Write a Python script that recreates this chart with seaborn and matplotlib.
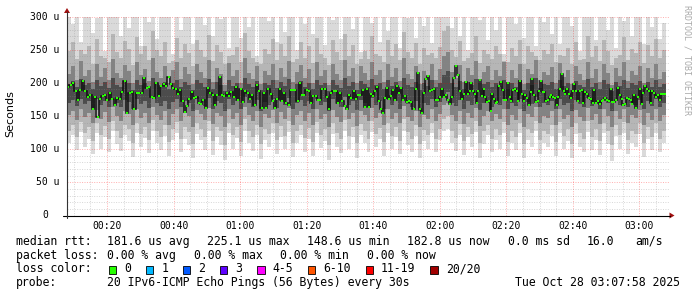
import numpy as np
import pandas as pd
import matplotlib
matplotlib.use("Agg")
import matplotlib.pyplot as plt
import matplotlib.transforms as mtransforms
from matplotlib.patches import Polygon, Rectangle
from matplotlib.lines import Line2D
import seaborn as sns

sns.set_style("white")
plt.rcParams['font.family'] = ['DejaVu Sans Mono', 'DejaVu Sans']

# ---------------- data (microseconds) ----------------
chunk_edges = ["00:07:58", "00:37:26", "01:07:29", "01:37:50", "02:08:10", "02:38:31", "03:07:58"]
axis_end = "03:08:52"

median_c1 = [193, 196.5, 200, 188, 174, 189, 202.5, 188, 179, 181.5, 161, 179, 149, 176, 180, 181.5,
             174, 185, 175, 167, 176.5, 175, 186.5, 203, 155, 185, 186, 160, 185, 185, 185, 207,
             191.5, 193, 178, 177, 200, 180, 195, 198]
median_c2 = [195, 209, 198, 192, 190, 183, 189, 172, 156, 165, 175, 186, 177, 178, 169, 168, 174,
             162, 192, 185, 182, 167, 182, 209, 181, 180, 185, 180, 186, 178, 193, 174, 190, 171,
             187, 185, 176, 181, 167, 196, 188, 162, 185]
median_c3 = [162, 191, 183, 173, 162, 175, 190, 173, 185, 170, 167, 189, 189, 189, 173, 200, 181,
             182, 189, 188, 170, 180, 180, 174, 174, 191, 191, 178, 160, 185, 188, 188, 170, 185,
             173, 165, 161, 181, 177, 188, 176, 181, 181, 189, 164]
median_c4 = [191, 164, 183, 180, 188, 194, 173, 161, 155, 177, 192, 175, 180, 189, 174, 195, 185,
             192, 174, 180, 171, 172, 171, 160, 191, 215, 161, 155, 185, 206, 210, 187, 189, 191,
             174, 174, 178, 191, 179, 182, 174, 168, 179, 207, 225.1, 212, 188, 176, 183, 202]
median_c5 = [183, 187, 200, 187, 183, 170, 187, 204, 180, 191, 178, 171, 172, 158, 183, 176, 170,
             171, 195, 201, 189, 174, 174, 200, 178, 172, 189, 191, 188, 172, 203, 183, 173, 181,
             177, 166, 186, 206, 182, 171, 173, 188, 203, 186, 186, 173, 174, 178, 181, 179, 177,
             166, 178, 191, 214, 188, 183, 191]
median_c6 = [183, 177, 187, 198, 187, 173, 187, 189, 170, 186, 183, 177, 175, 170, 189, 170, 173,
             168, 173, 174, 177, 174, 173, 191, 171, 171, 174, 192, 182, 176, 167, 168, 177, 176,
             174, 168, 182, 162, 178, 191, 168, 185, 195, 191, 188, 169, 188, 185, 179, 181, 174,
             183, 183, 182.8]
median_chunks = [median_c1, median_c2, median_c3, median_c4, median_c5, median_c6]

# smoke: ping distribution per time column (150 columns over the 3 h window)
smoke_max = [310, 288, 310, 262, 310, 310, 275, 298, 310, 248, 310, 305, 310, 270, 310, 283, 310, 310, 256, 310, 292, 310, 266, 310, 310, 301, 244, 310, 279, 310,
             310, 258, 310, 310, 287, 310, 271, 310, 296, 310, 252, 310, 310, 268, 310, 284, 310, 241, 310, 310, 293, 310, 262, 310, 277, 310, 310, 249, 310, 289,
             310, 273, 310, 310, 257, 310, 295, 310, 266, 310, 310, 281, 310, 246, 310, 310, 290, 310, 261, 310, 278, 310, 310, 253, 310, 297, 310, 268, 310, 285,
             310, 260, 310, 310, 310, 310, 282, 310, 271, 310, 250, 310, 310, 294, 310, 264, 310, 279, 310, 243, 310, 310, 288, 310, 267, 310, 310, 255, 310, 291,
             310, 274, 310, 258, 310, 310, 286, 310, 248, 310, 299, 310, 265, 310, 310, 280, 310, 252, 310, 293, 310, 270, 310, 310, 259, 310, 284, 310, 266, 290]
smoke_p90 = [248, 262, 236, 250, 244, 255, 229, 266, 241, 238, 232, 274, 247, 238, 263, 251, 227, 269, 243, 256, 234, 278, 249, 240, 261, 230, 233, 268, 237, 259,
             245, 226, 264, 250, 239, 272, 233, 257, 246, 228, 240, 242, 254, 231, 275, 248, 237, 232, 229, 251, 244, 266, 235, 258, 240, 270, 232, 236, 261, 238,
             255, 230, 268, 243, 238, 227, 264, 246, 235, 273, 241, 257, 229, 236, 248, 236, 270, 244, 240, 231, 265, 240, 258, 234, 276, 247, 238, 260, 228, 252,
             242, 245, 237, 254, 278, 285, 250, 239, 263, 233, 238, 245, 271, 230, 249, 244, 236, 255, 243, 233, 232, 252, 240, 264, 229, 256, 247, 240, 235, 250,
             244, 259, 231, 242, 241, 253, 228, 262, 234, 236, 270, 239, 255, 233, 264, 248, 227, 238, 242, 269, 234, 251, 245, 262, 230, 257, 240, 266, 237, 249]
smoke_p75 = [214, 226, 205, 233, 211, 220, 201, 229, 209, 223, 204, 236, 215, 207, 227, 218, 199, 231, 212, 221, 203, 238, 216, 208, 225, 200, 219, 232, 206, 224,
             213, 198, 228, 217, 207, 234, 202, 222, 214, 197, 230, 210, 220, 200, 237, 215, 206, 226, 198, 218, 212, 229, 204, 223, 209, 233, 201, 216, 227, 207,
             221, 200, 231, 211, 219, 197, 228, 213, 204, 235, 210, 222, 199, 226, 215, 205, 232, 212, 220, 201, 229, 209, 223, 203, 238, 214, 206, 225, 198, 218,
             210, 229, 205, 221, 240, 246, 217, 207, 227, 202, 222, 212, 233, 199, 216, 225, 205, 220, 211, 231, 201, 219, 208, 228, 198, 221, 214, 235, 204, 217,
             212, 224, 200, 230, 209, 219, 198, 226, 213, 205, 232, 207, 221, 202, 228, 215, 197, 223, 210, 231, 203, 218, 212, 226, 199, 222, 208, 229, 206, 216]
smoke_p60 = [198, 203, 193, 206, 196, 200, 190, 204, 195, 201, 192, 207, 197, 193, 203, 199, 189, 205, 196, 200, 191, 208, 198, 194, 202, 190, 199, 205, 193, 201,
             197, 189, 204, 199, 194, 206, 191, 201, 197, 188, 205, 195, 200, 190, 208, 198, 193, 203, 189, 199, 196, 204, 192, 201, 195, 206, 190, 198, 203, 194,
             200, 190, 205, 196, 199, 188, 204, 197, 192, 207, 195, 201, 189, 203, 198, 193, 206, 196, 200, 190, 204, 195, 201, 191, 208, 197, 193, 202, 189, 199,
             195, 204, 193, 200, 212, 218, 199, 194, 203, 191, 201, 196, 206, 189, 198, 202, 193, 200, 195, 205, 190, 199, 194, 204, 189, 200, 197, 207, 192, 198,
             196, 202, 190, 205, 195, 199, 189, 203, 197, 193, 206, 194, 200, 191, 204, 198, 188, 202, 195, 205, 192, 199, 196, 203, 190, 201, 194, 204, 193, 198]
smoke_p40 = [170, 174, 165, 176, 168, 172, 162, 175, 167, 173, 163, 177, 169, 164, 174, 171, 160, 176, 168, 172, 162, 178, 170, 165, 173, 161, 171, 176, 164, 172,
             169, 158, 175, 171, 165, 177, 161, 172, 169, 157, 176, 166, 172, 160, 178, 170, 164, 174, 158, 171, 167, 175, 162, 172, 166, 177, 160, 170, 174, 165,
             172, 160, 176, 167, 171, 157, 175, 168, 163, 178, 166, 172, 159, 174, 170, 164, 177, 167, 172, 160, 175, 166, 172, 161, 179, 168, 164, 173, 158, 170,
             166, 175, 164, 171, 180, 186, 170, 165, 174, 161, 172, 167, 177, 159, 169, 173, 164, 171, 166, 176, 160, 170, 165, 175, 158, 171, 168, 178, 163, 169,
             167, 173, 160, 176, 166, 170, 158, 174, 168, 164, 177, 165, 171, 161, 175, 169, 157, 173, 166, 176, 163, 170, 167, 174, 160, 172, 165, 175, 164, 170]
smoke_p25 = [152, 158, 144, 161, 148, 155, 139, 159, 146, 156, 141, 163, 150, 143, 158, 153, 136, 160, 147, 155, 140, 164, 151, 144, 157, 137, 153, 161, 142, 155,
             150, 134, 159, 153, 144, 162, 138, 155, 150, 133, 160, 145, 155, 137, 164, 151, 143, 158, 134, 153, 147, 159, 140, 156, 145, 162, 136, 151, 158, 143,
             154, 137, 161, 146, 153, 133, 159, 148, 141, 164, 145, 155, 135, 158, 151, 142, 162, 147, 154, 137, 160, 145, 155, 139, 165, 149, 142, 157, 134, 152,
             145, 160, 142, 153, 166, 170, 151, 143, 158, 138, 155, 147, 162, 135, 150, 157, 142, 153, 146, 161, 137, 151, 144, 160, 134, 153, 148, 163, 140, 150,
             147, 157, 137, 161, 145, 152, 134, 159, 148, 142, 162, 144, 153, 138, 160, 150, 133, 157, 146, 161, 140, 151, 147, 159, 136, 155, 144, 160, 142, 151]
smoke_p10 = [128, 137, 118, 141, 124, 133, 113, 139, 121, 135, 115, 143, 127, 117, 137, 130, 110, 140, 123, 134, 114, 144, 128, 119, 136, 111, 131, 141, 116, 133,
             126, 108, 139, 131, 119, 142, 112, 134, 127, 107, 140, 121, 133, 111, 145, 128, 118, 137, 108, 131, 123, 139, 114, 135, 120, 142, 110, 128, 137, 117,
             132, 111, 141, 122, 130, 107, 139, 124, 115, 144, 120, 134, 109, 138, 128, 116, 142, 123, 132, 111, 140, 120, 134, 113, 146, 126, 116, 136, 108, 129,
             121, 140, 116, 131, 146, 150, 128, 117, 138, 112, 134, 123, 142, 109, 127, 137, 116, 131, 121, 141, 111, 128, 119, 140, 108, 131, 124, 143, 114, 127,
             123, 136, 111, 141, 120, 130, 108, 139, 124, 116, 142, 119, 131, 112, 140, 127, 107, 136, 121, 141, 114, 128, 123, 139, 110, 133, 119, 140, 116, 128]
smoke_min = [110, 122, 98, 126, 104, 116, 92, 124, 101, 119, 95, 128, 108, 97, 121, 113, 88, 125, 103, 117, 94, 127, 109, 99, 120, 90, 114, 125, 96, 116,
             106, 86, 123, 114, 99, 127, 91, 118, 107, 84, 125, 101, 117, 89, 128, 110, 97, 121, 85, 114, 103, 124, 93, 119, 100, 126, 88, 110, 122, 96,
             115, 89, 125, 102, 113, 83, 123, 104, 94, 128, 100, 118, 87, 122, 110, 95, 126, 103, 115, 90, 124, 100, 118, 92, 127, 106, 96, 120, 86, 112,
             101, 124, 95, 114, 128, 131, 110, 97, 122, 91, 118, 103, 126, 87, 108, 121, 95, 114, 101, 125, 90, 110, 99, 124, 86, 114, 104, 127, 93, 109,
             103, 120, 90, 125, 100, 113, 86, 123, 104, 95, 126, 98, 114, 91, 124, 108, 82, 120, 101, 125, 93, 110, 103, 123, 88, 116, 98, 124, 95, 110]

y_ticks = [0, 50, 100, 150, 200, 250, 300]
y_ticklabels = ["0", "50 u", "100 u", "150 u", "200 u", "250 u", "300 u"]
x_ticks_min = [20, 40, 60, 80, 100, 120, 140, 160, 180]
x_ticklabels = ["00:20", "00:40", "01:00", "01:20", "01:40", "02:00", "02:20", "02:40", "03:00"]

legend_rows = [
    [(16, "median rtt:"), (107.3, "181.6 us avg"), (207.3, "225.1 us max"), (307.4, "148.6 us min"),
     (407.5, "182.8 us now"), (507.6, "0.0 ms sd"), (587, "16.0"), (635.6, "am/s")],
    [(16, "packet loss:"), (107.3, "0.00 % avg"), (193.7, "0.00 % max"), (280.2, "0.00 % min"),
     (366.5, "0.00 % now")],
    [(16, "loss color:")],
    [(16, "probe:"), (107.3, "20 IPv6-ICMP Echo Pings (56 Bytes) every 30s")],
]
loss_labels = ["0", "1", "2", "3", "4-5", "6-10", "11-19", "20/20"]
loss_colors = ["#26ff00", "#00b8ff", "#0059ff", "#5e00ff", "#ff00ff", "#ff5500", "#ff0000", "#a10000"]
stamp = "Tue Oct 28 03:07:58 2025"

# ---------------- helpers ----------------
W, H = 697, 297


def hms(s):
    h, m, sec = (int(v) for v in s.split(":"))
    return h * 60 + m + sec / 60.0


def fx(x):
    return x / W


def fy(y):
    return 1 - y / H


edges = [hms(e) for e in chunk_edges]
med_edges = []
med_vals = []
med_t = []
for k, vals in enumerate(median_chunks):
    a, b = edges[k], edges[k + 1]
    n = len(vals)
    st = (b - a) / n
    for i in range(n):
        med_edges.append(a + st * i)
        med_t.append(a + st * (i + 0.5))
    med_vals.extend(vals)
med_edges.append(edges[-1])
df = pd.DataFrame({"t": med_t, "rtt": med_vals})

ns = len(smoke_max)
s_edges = np.linspace(edges[0], edges[-1], ns + 1)

# ---------------- figure ----------------
fig = plt.figure(figsize=(W / 100, H / 100), dpi=100)
fig.patch.set_facecolor("white")
ax = fig.add_axes([fx(67), fy(215.5), (669 - 67) / W, (215.5 - 16.5) / H])
ax.set_facecolor("white")

bands = [(smoke_min, smoke_max, "#dadada"),
         (smoke_p10, smoke_p90, "#b6b6b6"),
         (smoke_p25, smoke_p75, "#838383"),
         (smoke_p40, smoke_p60, "#4c4c4c")]
for lo, hi, col in bands:
    ax.stairs(hi, s_edges, baseline=lo, fill=True, color=col, lw=0, zorder=1)

ax.stairs(med_vals, med_edges, baseline=None, color="#111111", lw=1.1, zorder=3)
sns.scatterplot(data=df, x="t", y="rtt", marker="s", s=4.2, color=loss_colors[0],
                linewidth=0, ax=ax, zorder=4, legend=False)

ax.set_xlim(edges[0], hms(axis_end))
ax.set_ylim(0, 300)
ax.set_xlabel("")
ax.set_ylabel("")

ax.set_xticks(x_ticks_min)
ax.set_xticklabels(x_ticklabels, fontsize=7, color="#000000")
ax.set_xticks(np.arange(10, 190, 5), minor=True)
ax.set_yticks(y_ticks)
ax.set_yticklabels([])
ax.set_yticks(np.arange(0, 301, 10), minor=True)
ax.tick_params(axis="x", which="major", length=2, width=0.7, pad=2.2, color="#000000")
ax.tick_params(axis="x", which="minor", length=0)
ax.tick_params(axis="y", which="major", length=3, width=0.7, pad=0, color="#000000")
ax.tick_params(axis="y", which="minor", length=1.4, width=0.5, color="#888888")

ax.grid(which="minor", color="#8c8c8c", alpha=0.35, lw=0.7, ls=(0, (1, 1.5)), zorder=5)
ax.grid(which="major", color="#ff0000", alpha=0.32, lw=0.7, ls=(0, (1, 1.5)), zorder=6)
ax.set_axisbelow(False)
for sp in ax.spines.values():
    sp.set_visible(False)

# y tick labels
base_tr = ax.get_yaxis_transform()
for v, lab in zip(y_ticks, y_ticklabels):
    off = -19 if lab == "0" else -8
    tr = mtransforms.offset_copy(base_tr, fig=fig, x=off, y=0, units="dots")
    ax.text(0, v, lab, transform=tr, ha="right", va="center", fontsize=7, color="#000000",
            clip_on=False)

# axis lines and arrows
fig.add_artist(Line2D([fx(63), fx(670)], [fy(215.5), fy(215.5)], color="#000000", lw=0.8))
fig.add_artist(Line2D([fx(67), fx(67)], [fy(218), fy(12)], color="#333333", lw=0.8))
fig.add_artist(Polygon([[fx(67), fy(8)], [fx(64), fy(13)], [fx(70), fy(13)]], closed=True,
                       color="#a01010", lw=0))
fig.add_artist(Polygon([[fx(674.5), fy(215.5)], [fx(669.5), fy(212.5)], [fx(669.5), fy(218.5)]],
                       closed=True, color="#a01010", lw=0))

# labels
fig.text(fx(10.5), fy(114), "Seconds", rotation=90, ha="center", va="center",
         fontsize=8, family="DejaVu Sans", color="#000000")
fig.text(fx(687), fy(5), "RRDTOOL / TOBI OETIKER", rotation=270, ha="center", va="top",
         fontsize=6, color="#aaaaaa")

# legend text
baselines = [245, 258.7, 272.3, 286]
for row, yb in zip(legend_rows, baselines):
    for x, s in row:
        fig.text(fx(x), fy(yb), s, ha="left", va="baseline", fontsize=8.3, color="#000000")
box_x = [108.5, 145.7, 182.6, 219.9, 257.2, 307.8, 365.6, 430.4]
for bx, lab, col in zip(box_x, loss_labels, loss_colors):
    fig.add_artist(Rectangle((fx(bx), fy(273.5)), 7.5 / W, 7.5 / H, facecolor=col,
                             edgecolor="#000000", lw=0.6))
    fig.text(fx(bx + 15.5), fy(272.3), lab, ha="left", va="baseline", fontsize=8.3, color="#000000")
fig.text(fx(680), fy(286), stamp, ha="right", va="baseline", fontsize=8.3, color="#000000")

fig.savefig("out.png", dpi=100, facecolor="white")
